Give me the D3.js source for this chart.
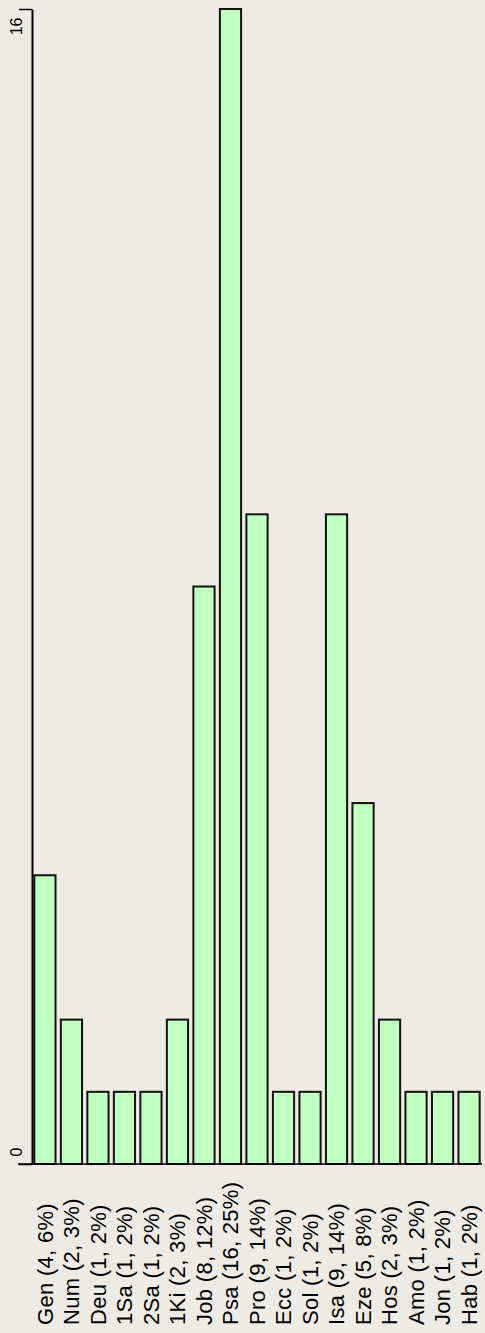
<!DOCTYPE html>
<html>
<head>
<meta charset="utf-8">
<script src="https://cdn.jsdelivr.net/npm/d3@7"></script>
<style>
  body { margin: 0; background: #eeebe4; }
  svg { display: block; }
</style>
</head>
<body>
<svg id="chart" width="485" height="1333"></svg>
<script>
// books and how many times each one shows up
const books = ["Gen", "Num", "Deu", "1Sa", "2Sa", "1Ki", "Job", "Psa", "Pro", "Ecc", "Sol", "Isa", "Eze", "Hos", "Amo", "Jon", "Hab"];
const counts = [4, 2, 1, 1, 1, 2, 8, 16, 9, 1, 1, 9, 5, 2, 1, 1, 1];
const percents = [6, 3, 2, 2, 2, 3, 12, 25, 14, 2, 2, 14, 8, 3, 2, 2, 2];
const yTicks = [0, 16];

const data = books.map((b, i) => ({ book: b, count: counts[i], pct: percents[i] }));

const svg = d3.select("#chart");

const xScale = d3.scaleBand()
    .domain(books)
    .range([33, 481])
    .paddingInner(0.2)
    .paddingOuter(0.05);

const yScale = d3.scaleLinear()
    .domain([0, 16])
    .range([1164, 9]);

// bars
svg.selectAll(".bar")
    .data(data)
    .enter()
    .append("rect")
    .attr("class", "bar")
    .attr("x", d => xScale(d.book))
    .attr("y", d => yScale(d.count))
    .attr("width", xScale.bandwidth())
    .attr("height", d => yScale(0) - yScale(d.count))
    .attr("fill", "#bfffbf")
    .attr("stroke", "#111")
    .attr("stroke-width", 2);

// y axis, only 0 and the max
const yAxis = d3.axisLeft(yScale)
    .tickValues(yTicks)
    .tickSize(13)
    .tickSizeOuter(0);

const yAxisGroup = svg.append("g")
    .attr("transform", "translate(32,0)")
    .call(yAxis);

yAxisGroup.select(".domain").attr("stroke", "#000").attr("stroke-width", 2);
yAxisGroup.selectAll(".tick line").attr("stroke", "#000").attr("stroke-width", 1.5);
yAxisGroup.selectAll(".tick text")
    .attr("transform", "rotate(-90)")
    .attr("text-anchor", d => d === 0 ? "start" : "end")
    .attr("x", d => d === 0 ? 8 : -8)
    .attr("y", -10)
    .attr("dy", 0)
    .attr("fill", "#000")
    .style("font-family", "'Liberation Sans', Arial, sans-serif")
    .style("font-size", "16px");

// x axis labels
const xAxis = d3.axisBottom(xScale)
    .tickSize(0)
    .tickFormat((b, i) => `${b} (${counts[i]}, ${percents[i]}%)`);

const xAxisGroup = svg.append("g")
    .attr("transform", `translate(0,${yScale(0)})`)
    .call(xAxis);

xAxisGroup.select(".domain").remove();
xAxisGroup.selectAll(".tick text")
    .attr("transform", "rotate(-90)")
    .attr("text-anchor", "start")
    .attr("x", -161)
    .attr("y", 0)
    .attr("dy", "0.35em")
    .attr("fill", "#000")
    .style("font-family", "'Liberation Sans', Arial, sans-serif")
    .style("font-size", "22px")
    .style("letter-spacing", "0.3px");

// baseline
xAxisGroup.append("line")
    .attr("x1", 18)
    .attr("x2", 482)
    .attr("y1", 0)
    .attr("y2", 0)
    .attr("stroke", "#000")
    .attr("stroke-width", 1.5);
</script>
</body>
</html>
